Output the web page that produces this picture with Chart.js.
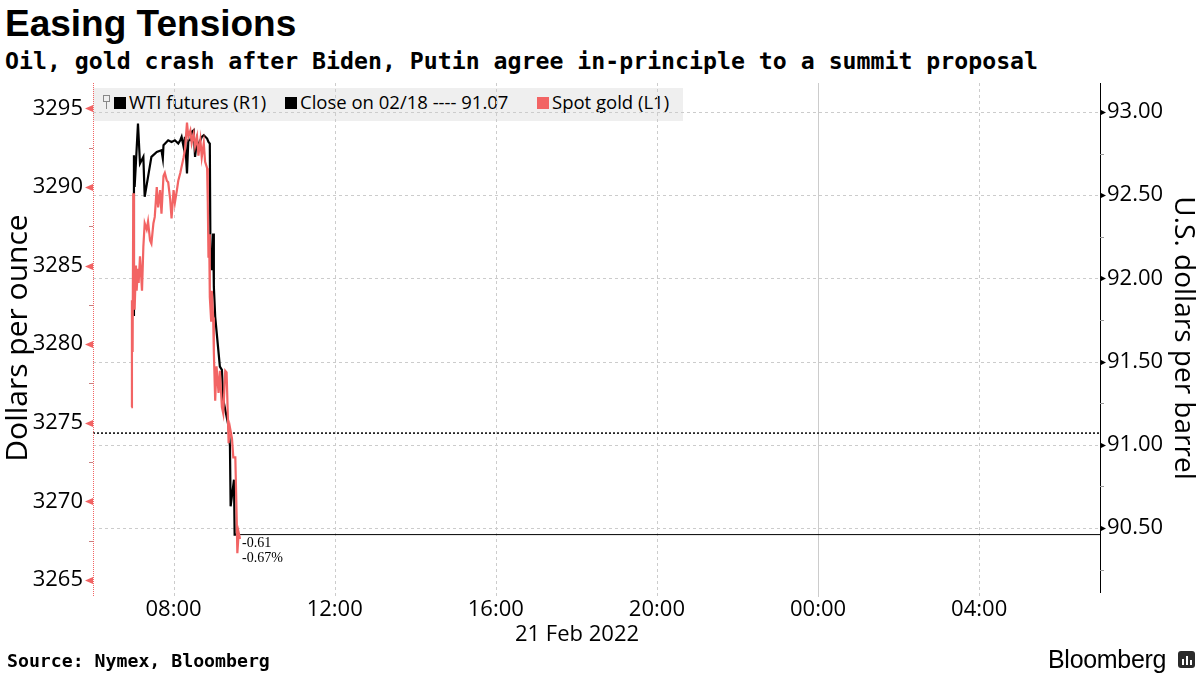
<!DOCTYPE html>
<html>
<head>
<meta charset="utf-8">
<title>Easing Tensions</title>
<script src="https://cdn.jsdelivr.net/npm/chart.js@4.4.1/dist/chart.umd.min.js"></script>
<style>
  body { margin: 0; background: #fff; }
  #page { position: relative; width: 1200px; height: 675px; overflow: hidden; background: #fff; color: #000; }
  #page div { position: absolute; white-space: nowrap; line-height: 1; }
  #page canvas { position: absolute; left: 0; top: 0; }
  .title { left: 5px; top: 5px; font: bold 37px "Liberation Sans", Arial, sans-serif; }
  .subtitle { left: 5px; top: 49px; font: bold 23.2px "DejaVu Sans Mono", monospace; }
  .legend { left: 93px; top: 88px; width: 590px; height: 33px; background: #efefef; font: 18.5px "Open Sans", sans-serif; }
  .legend span { position: absolute; top: 5px; white-space: nowrap; }
  .legend .sq { top: 9px; width: 12px; height: 12px; }
  .legend .fold { top: 7px; left: 10px; width: 5px; height: 5px; border: 1px solid #888; }
  .legend .stem { top: 14px; left: 13px; width: 1px; height: 7px; background: #888; }
  .dateLabel { left: 515px; top: 621px; font: 22px "Open Sans", sans-serif; }
  .source { left: 7px; top: 652px; font: bold 18.2px "DejaVu Sans Mono", monospace; }
  .brand { left: 1048px; top: 647px; font: 25px "Liberation Sans", Arial, sans-serif; letter-spacing: -0.3px; }
  .brandIcon { left: 1178px; top: 651px; width: 17px; height: 17px; background: #2b2b2b; border-radius: 3px; }
  .brandIcon i { position: absolute; bottom: 3px; width: 2px; background: #fff; }
</style>
</head>
<body>
<div id="page">
  <div class="title">Easing Tensions</div>
  <div class="subtitle">Oil, gold crash after Biden, Putin agree in-principle to a summit proposal</div>
  <div class="legend">
    <span class="fold"></span><span class="stem"></span>
    <span class="sq" style="left:21px;background:#000"></span>
    <span style="left:36px">WTI futures (R1)</span>
    <span class="sq" style="left:192px;background:#000"></span>
    <span style="left:207px">Close on 02/18 ---- 91.07</span>
    <span class="sq" style="left:444px;background:#f26464"></span>
    <span style="left:459px">Spot gold (L1)</span>
  </div>
  <canvas id="chart" width="1200" height="675"></canvas>
  <div class="dateLabel">21 Feb 2022</div>
  <div class="source">Source: Nymex, Bloomberg</div>
  <div class="brand">Bloomberg</div>
  <div class="brandIcon"><i style="left:4px;height:6px"></i><i style="left:8px;height:9px"></i><i style="left:12px;height:5px"></i></div>
</div>
<script>
// time of day on 21 Feb 2022 (hours past midnight), axis runs to 07:00 next day
const X_MIN = 6, X_MAX = 31;
const xTicks = [8, 12, 16, 20, 24, 28];

const goldTicks = [3265, 3270, 3275, 3280, 3285, 3290, 3295];
const wtiTicks = [90.5, 91, 91.5, 92, 92.5, 93];

const goldTimes = ['06:57','06:58','06:59','07:00','07:01','07:02','07:04','07:05','07:07','07:08',
  '07:10','07:11','07:13','07:15','07:17','07:20','07:22','07:25','07:27','07:30',
  '07:32','07:35','07:37','07:40','07:42','07:45','07:47','07:50','07:52','07:55',
  '07:57','08:00','08:02','08:05','08:07','08:10','08:12','08:15','08:17','08:20',
  '08:22','08:25','08:27','08:30','08:32','08:35','08:37','08:40','08:42','08:45',
  '08:47','08:50','08:51','08:52','08:53','08:54','08:56','08:57','08:59','09:00',
  '09:02','09:04','09:07','09:09','09:12','09:14','09:17','09:19','09:22','09:24',
  '09:27','09:29','09:32','09:34','09:35','09:37','09:39'];
const goldValues = [3276.0,3282.8,3279.5,3289.6,3284.0,3282.2,3285.0,3283.4,3284.8,3283.9,
  3285.6,3284.9,3283.4,3286.2,3287.7,3287.3,3287.8,3286.6,3286.4,3287.7,
  3288.1,3290.0,3288.7,3289.8,3288.3,3290.7,3290.9,3290.4,3290.3,3289.2,
  3288.0,3289.8,3289.0,3289.8,3290.4,3290.9,3291.3,3291.9,3292.4,3294.1,
  3293.2,3293.6,3292.8,3293.4,3292.6,3293.2,3292.0,3293.0,3291.9,3292.8,
  3291.6,3291.2,3289.0,3285.5,3287.0,3283.0,3281.5,3283.4,3281.7,3279.5,
  3276.4,3278.6,3276.9,3278.3,3276.0,3275.6,3278.3,3278.2,3273.7,3274.7,
  3274.0,3272.8,3272.8,3269.0,3266.7,3268.0,3267.6];

const wtiTimes = ['07:00','07:01','07:02','07:04','07:07','07:10','07:15','07:17','07:27','07:35',
  '07:42','07:44','07:45','07:52','07:57','08:02','08:07','08:10','08:12','08:15',
  '08:17','08:20','08:22','08:25','08:27','08:30','08:32','08:35','08:37','08:40',
  '08:42','08:45','08:50','08:52','08:54','08:55','08:57','08:59','09:00','09:02',
  '09:09','09:12','09:14','09:22','09:24','09:25','09:30','09:31','09:39'];
const wtiValues = [91.78,92.74,92.55,92.70,92.93,92.69,92.73,92.49,92.73,92.76,
  92.77,92.72,92.80,92.83,92.82,92.83,92.81,92.83,92.85,92.79,
  92.85,92.63,92.83,92.83,92.88,92.89,92.73,92.83,92.79,92.83,
  92.85,92.86,92.84,92.82,92.81,92.10,92.05,92.27,91.95,91.77,
  91.47,91.45,91.27,91.11,90.99,90.63,90.79,90.46,90.46];

const closeValue = 91.07;          // WTI close on 02/18
const wtiChangeLabel = '-0.61';
const goldChangeLabel = '-0.67%';

const GOLD_RED = '#f26464';

function toHours(s) {
    const [h, m] = s.split(':').map(Number);
    return h + m / 60;
}
function pairs(times, values) {
    return values.map((v, i) => ({x: toHours(times[i]), y: v}));
}
const lastTime = toHours(wtiTimes[wtiTimes.length - 1]);
const lastWti = wtiValues[wtiValues.length - 1];

const tickFont = {family: 'Open Sans', size: 22};

// grid, axis lines and tick marks in the Bloomberg style
const bbAxes = {
    id: 'bbAxes',
    beforeDatasetsDraw(chart) {
        const {ctx, chartArea: a, scales} = chart;
        const x = scales.x, yW = scales.yWti;
        ctx.save();
        ctx.lineWidth = 1;
        ctx.strokeStyle = '#cccccc';
        ctx.setLineDash([3, 3]);
        yW.ticks.forEach(t => {
            const y = Math.round(yW.getPixelForValue(t.value)) + 0.5;
            ctx.beginPath(); ctx.moveTo(a.left, y); ctx.lineTo(a.right, y); ctx.stroke();
        });
        x.ticks.forEach(t => {
            const px = Math.round(x.getPixelForValue(t.value)) + 0.5;
            ctx.setLineDash(t.value % 24 === 0 ? [] : [3, 3]);
            ctx.beginPath(); ctx.moveTo(px, a.top); ctx.lineTo(px, a.bottom + 4); ctx.stroke();
        });
        ctx.restore();
    },
    afterDraw(chart) {
        const {ctx, chartArea: a, scales} = chart;
        const x = scales.x, yG = scales.yGold, yW = scales.yWti;
        ctx.save();
        // left axis: red dotted line, red triangles, minor ticks
        ctx.strokeStyle = GOLD_RED;
        ctx.lineWidth = 1;
        ctx.setLineDash([1, 1]);
        ctx.beginPath(); ctx.moveTo(a.left + 0.5, a.top); ctx.lineTo(a.left + 0.5, a.bottom + 4); ctx.stroke();
        ctx.setLineDash([]);
        ctx.fillStyle = GOLD_RED;
        yG.ticks.forEach(t => {
            const y = Math.round(yG.getPixelForValue(t.value)) + 0.5;
            ctx.beginPath(); ctx.moveTo(a.left, y - 3.5); ctx.lineTo(a.left, y + 3.5); ctx.lineTo(a.left - 8, y); ctx.closePath(); ctx.fill();
            const ym = Math.round(yG.getPixelForValue(t.value + 2.5)) + 0.5;
            if (ym > a.top) {
                ctx.strokeStyle = '#c98080';
                ctx.beginPath(); ctx.moveTo(a.left - 4, ym); ctx.lineTo(a.left, ym); ctx.stroke();
            }
        });
        // right axis: black line, triangles, minor ticks
        ctx.strokeStyle = '#000';
        ctx.beginPath(); ctx.moveTo(a.right + 0.5, a.top); ctx.lineTo(a.right + 0.5, a.bottom); ctx.stroke();
        ctx.fillStyle = '#000';
        const minors = [90.25, 90.75, 91.25, 91.75, 92.25, 92.75];
        yW.ticks.forEach(t => {
            const y = Math.round(yW.getPixelForValue(t.value)) + 0.5;
            ctx.beginPath(); ctx.moveTo(a.right, y - 3); ctx.lineTo(a.right, y + 3); ctx.lineTo(a.right + 6, y); ctx.closePath(); ctx.fill();
        });
        ctx.strokeStyle = '#999';
        minors.forEach(v => {
            const y = Math.round(yW.getPixelForValue(v)) + 0.5;
            ctx.beginPath(); ctx.moveTo(a.right, y); ctx.lineTo(a.right + 4, y); ctx.stroke();
        });
        // change labels next to the last values
        const lx = x.getPixelForValue(lastTime);
        const ly = yW.getPixelForValue(lastWti);
        ctx.fillStyle = '#000';
        ctx.font = '14px "Liberation Serif", serif';
        ctx.textBaseline = 'top';
        ctx.fillText(wtiChangeLabel, lx + 2, ly + 2);
        ctx.fillText(goldChangeLabel, lx + 2, ly + 17);
        ctx.restore();
    }
};

const ctx = document.getElementById('chart').getContext('2d');
const myChart = new Chart(ctx, {
    type: 'line',
    data: {
        datasets: [{
            label: 'Spot gold (L1)',
            data: pairs(goldTimes, goldValues),
            yAxisID: 'yGold',
            borderColor: GOLD_RED,
            borderWidth: 2.2,
            pointRadius: 0,
            tension: 0
        }, {
            label: 'WTI futures (R1)',
            data: pairs(wtiTimes, wtiValues),
            yAxisID: 'yWti',
            borderColor: '#000',
            borderWidth: 2.2,
            pointRadius: 0,
            tension: 0
        }, {
            label: 'Close on 02/18',
            data: [{x: X_MIN, y: closeValue}, {x: X_MAX, y: closeValue}],
            yAxisID: 'yWti',
            borderColor: '#000',
            borderWidth: 1.5,
            borderDash: [2, 2],
            pointRadius: 0
        }, {
            label: 'WTI last',
            data: [{x: lastTime, y: lastWti}, {x: X_MAX, y: lastWti}],
            yAxisID: 'yWti',
            borderColor: '#000',
            borderWidth: 1,
            pointRadius: 0
        }]
    },
    options: {
        responsive: false,
        animation: false,
        layout: {padding: {top: 83, left: 0, right: 0, bottom: 0}},
        plugins: {legend: {display: false}, tooltip: {enabled: false}},
        scales: {
            x: {
                type: 'linear',
                min: X_MIN,
                max: X_MAX,
                afterBuildTicks: s => { s.ticks = xTicks.map(v => ({value: v})); },
                afterFit: s => { s.height = 82; },
                ticks: {
                    font: tickFont, color: '#000', padding: 4, maxRotation: 0, autoSkip: false,
                    callback: v => String(v % 24).padStart(2, '0') + ':00'
                },
                grid: {display: false, drawTicks: false},
                border: {display: false}
            },
            yGold: {
                position: 'left',
                min: 3264.17,
                max: 3296.62,
                afterBuildTicks: s => { s.ticks = goldTicks.map(v => ({value: v})); },
                afterFit: s => { s.width = 93; },
                ticks: {font: tickFont, color: '#000', padding: 10, callback: v => String(v)},
                title: {display: true, text: 'Dollars per ounce', color: '#000', font: {family: 'Open Sans', size: 30}, padding: 0},
                grid: {display: false, drawTicks: false},
                border: {display: false}
            },
            yWti: {
                position: 'right',
                min: 90.109,
                max: 93.174,
                afterBuildTicks: s => { s.ticks = wtiTicks.map(v => ({value: v})); },
                afterFit: s => { s.width = 100; },
                ticks: {font: tickFont, color: '#000', padding: 7, callback: v => v.toFixed(2)},
                title: {display: true, text: 'U.S. dollars per barrel', color: '#000', font: {family: 'Open Sans', size: 28}, padding: 0},
                grid: {display: false, drawTicks: false},
                border: {display: false}
            }
        }
    },
    plugins: [bbAxes]
});
</script>
</body>
</html>
